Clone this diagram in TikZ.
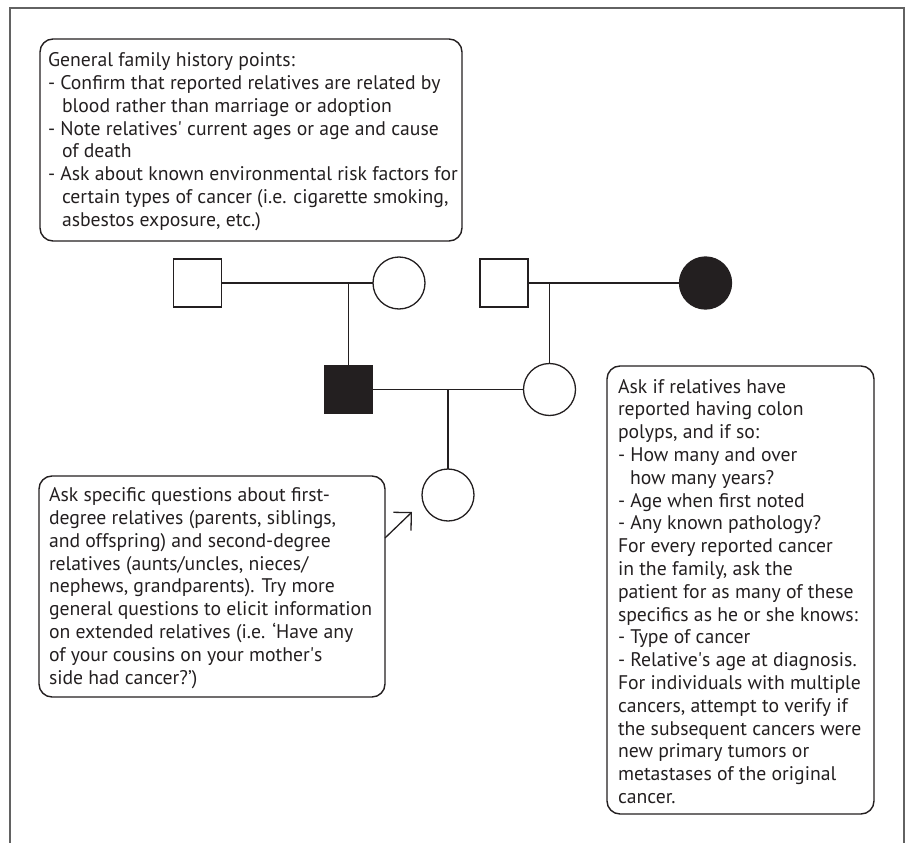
\documentclass[tikz,border=0pt]{standalone}
\usepackage{fontspec}
\setmainfont{PT Sans}
\usetikzlibrary{arrows.meta}
\definecolor{ink}{HTML}{231F20}
\definecolor{framegray}{HTML}{626262}
\tikzset{
  person/.style={draw=ink, line width=1.3pt, inner sep=0pt, outer sep=0pt},
  male/.style={person, rectangle, minimum size=48pt},
  female/.style={person, circle, minimum size=52pt},
  affected/.style={fill=ink},
  rel/.style={draw=ink, line width=1.3pt},
  note/.style={draw=ink, line width=1.4pt, rounded corners=13pt, rectangle, inner sep=0pt, outer sep=0pt, anchor=north west},
  notetext/.style={text=ink, align=left, inner sep=0pt, outer sep=0pt, anchor=base west, font=\fontsize{19.7}{22.8}\selectfont},
  pointer/.style={draw=ink, line width=1.3pt, -{Straight Barb[angle=90:18pt]}}
}
\begin{document}
\begin{tikzpicture}[x=1pt,y=-1pt]
\useasboundingbox (0,0) rectangle (911,843);
% outer frame (open at the bottom)
\draw[framegray, line width=2pt] (10,843) -- (10,8) -- (904,8) -- (904,843);

% note boxes
\node[note, minimum width=422pt, minimum height=202pt] (n1) at (40,39) {};
\node[note, minimum width=346pt, minimum height=221pt] (n2) at (39,476) {};
\node[note, minimum width=267pt, minimum height=448pt] (n3) at (607,366) {};

% text nodes: anchor is the baseline of the last line
\node[notetext] (t1) at (48,226.3) {General family history points:\\
- Confirm that reported relatives are related by\\
\hspace*{14pt}blood rather than marriage or adoption\\
- Note relatives\textquotesingle\ current ages or age and cause\\
\hspace*{14pt}of death\\
- Ask about known environmental risk factors for\\
\hspace*{14pt}certain types of cancer (i.e. cigarette smoking,\\
\hspace*{14pt}asbestos exposure, etc.)};

\node[notetext] (t2) at (49,684.1) {Ask specific questions about first-\\
degree relatives (parents, siblings,\\
and offspring) and second-degree\\
relatives (aunts/uncles, nieces/\\
nephews, grandparents). Try more\\
general questions to elicit information\\
on extended relatives (i.e. ‘Have any\\
of your cousins on your mother\textquotesingle s\\
side had cancer?’)};

\node[notetext] (t3) at (618,803.4) {Ask if relatives have\\
reported having colon\\
polyps, and if so:\\
- How many and over\\
\hspace*{12pt}how many years?\\
- Age when first noted\\
- Any known pathology?\\
For every reported cancer\\
in the family, ask the\\
patient for as many of these\\
specifics as he or she knows:\\
- Type of cancer\\
- Relative\textquotesingle s age at diagnosis.\\
For individuals with multiple\\
cancers, attempt to verify if\\
the subsequent cancers were\\
new primary tumors or\\
metastases of the original\\
cancer.};

% pedigree
\node[male] (gf1) at (197.5,283) {};
\node[female] (gm1) at (399,283) {};
\node[male] (gf2) at (504,283) {};
\node[female, affected] (gm2) at (705.5,283) {};
\node[male, affected] (fa) at (348.5,389.5) {};
\node[female] (mo) at (549.5,389.5) {};
\node[female] (ch) at (448,495) {};

\coordinate (m1) at (348.5,283);
\coordinate (m2) at (549.5,283);
\coordinate (m3) at (448,389.5);

\draw[rel] (gf1) -- (gm1);
\draw[rel] (m1) -- (fa.north);
\draw[rel] (gf2) -- (gm2);
\draw[rel] (m2) -- (mo.north);
\draw[rel] (fa) -- (mo);
\draw[rel] (m3) -- (ch.north);

% pointer from the lower-left note
\coordinate (pbase) at (385,538);
\coordinate (ptip) at (412,512);
\draw[pointer] (pbase) -- (ptip);
\end{tikzpicture}
\end{document}
